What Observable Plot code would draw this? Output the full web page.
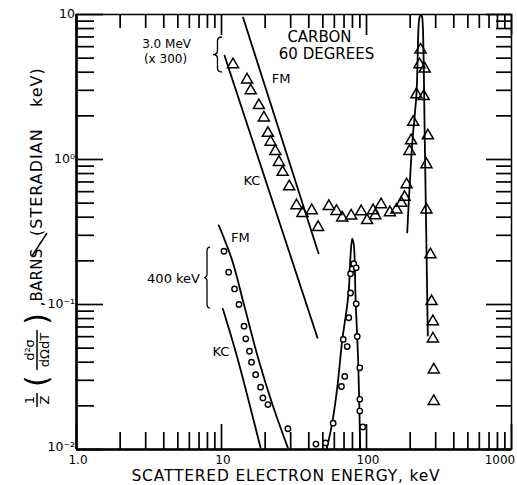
<!DOCTYPE html>
<html><head><meta charset="utf-8">
<script src="https://cdn.jsdelivr.net/npm/d3@7"></script>
<script src="https://cdn.jsdelivr.net/npm/@observablehq/plot@0.6"></script>
<style>body{margin:0;background:#fff} #chart svg{font-family:"DejaVu Sans",sans-serif}</style>
</head><body><div id="chart"></div>
<script>
// ---- data ----
// 3.0 MeV (x300) measured points, triangles
const tri3MeVEnergy = [12.0, 15.0, 15.9, 18.1, 19.6, 20.9, 21.8, 23.5, 24.9, 26.4, 29.3, 32.9, 36.2, 41.9, 46.4, 55.0, 62.1, 68.0, 78.4, 91.9, 101, 111, 115, 126, 145, 161, 174, 183, 189, 198, 203, 210, 221, 232, 236, 252, 248, 265, 259, 259, 276, 281, 287, 287, 291, 291];
const tri3MeVValue = [4.52, 3.55, 2.99, 2.36, 1.94, 1.52, 1.32, 1.14, 0.958, 0.818, 0.651, 0.482, 0.426, 0.445, 0.341, 0.476, 0.440, 0.396, 0.409, 0.438, 0.380, 0.445, 0.411, 0.489, 0.431, 0.450, 0.500, 0.550, 0.672, 1.14, 1.35, 1.81, 2.81, 4.52, 5.71, 4.22, 2.73, 1.46, 0.924, 0.450, 0.221, 0.105, 0.0764, 0.058, 0.0355, 0.0215];
// 400 keV measured points, circles
const circ400Energy = [10.4, 11.2, 12.3, 13.2, 14.3, 14.7, 15.6, 16.1, 17.2, 18.6, 19.3, 20.9, 28.7, 44.8, 52.2, 58.9, 67.2, 70.8, 69.1, 73.6, 75.5, 77.6, 77.6, 79.7, 81.7, 84.9, 84.9, 86.3, 89.9, 89.9, 89.9, 94.3];
const circ400Value = [0.233, 0.167, 0.128, 0.100, 0.0709, 0.058, 0.0476, 0.040, 0.0328, 0.0269, 0.0227, 0.0204, 0.0139, 0.0109, 0.0111, 0.0152, 0.0272, 0.0319, 0.0574, 0.0513, 0.081, 0.120, 0.163, 0.176, 0.191, 0.179, 0.101, 0.0602, 0.0366, 0.0222, 0.0184, 0.0143];
// theory curves
const fm3MeVEnergy = [14.1, 46.7];
const fm3MeVValue = [9.5, 0.225];
const kc3MeVEnergy = [10.5, 45.9];
const kc3MeVValue = [5.2, 0.059];
const peak3MeVEnergy = [190.9, 206.7, 221.2, 229.5, 233.1, 237.6, 241.4, 244.5, 252.5, 264.7];
const peak3MeVValue = [0.314, 1.289, 2.85, 8.81, 9.69, 9.92, 9.69, 8.40, 1.289, 0.0611];
const fm400Energy = [9.58, 11.85, 14.25, 18.08, 22.37, 28.66];
const fm400Value = [0.351, 0.201, 0.101, 0.0411, 0.0207, 0.0103];
const kc400Energy = [10.21, 12.83, 18.58];
const kc400Value = [0.0934, 0.0433, 0.0103];
const peak400Energy = [53.0, 58.0, 63.1, 68.0, 72.8, 75.5, 77.6, 79.7, 81.7, 84.0, 87.7, 90.5];
const peak400Value = [0.01, 0.0152, 0.0276, 0.0565, 0.091, 0.125, 0.218, 0.284, 0.259, 0.112, 0.0392, 0.01];
// ticks
const xMajorTicks = [1, 10, 100, 1000];
const xTickLabels = ["1.0", "10", "100", "1000"];
const yMajorTicks = [0.01, 0.1, 1, 10];
const yTickLabels = ["10\u207B\u00B2", "10\u207B\u00B9", "10\u2070", "10"];
const xMinorTicks = [2,3,4,5,6,7,8,9,20,30,40,50,60,70,80,90,200,300,400,500,600,700,800,900];
const yMinorTicks = [0.02,0.03,0.04,0.05,0.06,0.07,0.08,0.09,0.2,0.3,0.4,0.5,0.6,0.7,0.8,0.9,2,3,4,5,6,7,8,9];
// annotations (data coordinates)
const annText = ["CARBON", "60 DEGREES", "3.0 MeV", "(x 300)", "FM", "KC", "FM", "KC", "400 keV"];
const annEnergy = [47.4, 53.0, 4.18, 4.11, 25.8, 16.2, 13.5, 9.9, 4.67];
const annValue = [7.0, 5.35, 6.2, 4.95, 3.62, 0.716, 0.29, 0.0474, 0.151];
const annSize = [15, 15, 12, 12, 13, 13, 13, 13, 13];
const braceEnergyTip = [8.8, 7.63];
const braceEnergyRight = [10.16, 8.40];
const braceTop = [6.94, 0.247];
const braceBottom = [3.98, 0.0938];

const zip = (xs, ys) => xs.map((x, i) => ({x, y: ys[i]}));
const tri = zip(tri3MeVEnergy, tri3MeVValue);
const circ = zip(circ400Energy, circ400Value);
const curves = [
  [fm3MeVEnergy, fm3MeVValue, "linear"],
  [kc3MeVEnergy, kc3MeVValue, "linear"],
  [peak3MeVEnergy, peak3MeVValue, "catmull-rom"],
  [fm400Energy, fm400Value, "catmull-rom"],
  [kc400Energy, kc400Value, "catmull-rom"],
  [peak400Energy, peak400Value, "catmull-rom"]
];
const ann = annText.map((t, i) => ({t, x: annEnergy[i], y: annValue[i], s: annSize[i]}));

// inward tick marks: pixel lengths converted through the log scales (435 px = 3 decades)
const W = 435, PPD = W / 3;
const xD = [1, 1000], yD = [0.01, 10];
const upY = (px) => yD[0] * Math.pow(10, px / PPD);
const downY = (px) => yD[1] / Math.pow(10, px / PPD);
const rightX = (px) => xD[0] * Math.pow(10, px / PPD);
const leftX = (px) => xD[1] / Math.pow(10, px / PPD);
const TS = {stroke: "black", strokeWidth: 1.7};
const tickMarks = [
  Plot.ruleX(xMinorTicks, {x: d => d, y1: yD[0], y2: upY(17), ...TS}),
  Plot.ruleX(xMajorTicks, {x: d => d, y1: yD[0], y2: upY(25), ...TS}),
  Plot.ruleX(xMinorTicks, {x: d => d, y1: yD[1], y2: downY(14), ...TS}),
  Plot.ruleX(xMajorTicks, {x: d => d, y1: yD[1], y2: downY(21), ...TS}),
  Plot.ruleY(yMinorTicks, {y: d => d, x1: xD[0], x2: rightX(18), ...TS}),
  Plot.ruleY(yMajorTicks, {y: d => d, x1: xD[0], x2: rightX(27), ...TS}),
  Plot.ruleY(yMinorTicks, {y: d => d, x1: xD[1], x2: leftX(15), ...TS}),
  Plot.ruleY(yMajorTicks, {y: d => d, x1: xD[1], x2: leftX(25), ...TS})
];

const plot = Plot.plot({
  width: 517, height: 485,
  marginLeft: 76, marginRight: 6, marginTop: 14, marginBottom: 36,
  x: {type: "log", domain: xD, axis: null},
  y: {type: "log", domain: yD, axis: null},
  style: {fontFamily: "DejaVu Sans", background: "white", color: "black"},
  marks: [
    ...tickMarks,
    Plot.frame({stroke: "black", strokeWidth: 1.5}),
    Plot.ruleX([1], {strokeWidth: 2.6}),
    Plot.ruleY([0.01], {strokeWidth: 2.6}),
    // theory curves
    ...curves.map(([xs, ys, c]) => Plot.line(zip(xs, ys), {x: "x", y: "y", curve: c, stroke: "black", strokeWidth: 1.8})),
    // data points
    Plot.dot(tri, {x: "x", y: "y", symbol: "triangle", r: 4.1, stroke: "black", strokeWidth: 1.5, fill: "none"}),
    Plot.dot(circ, {x: "x", y: "y", symbol: "circle", r: 2.7, stroke: "black", strokeWidth: 1.4, fill: "white"}),
    // annotations
    Plot.text(ann, {x: "x", y: "y", text: "t", fontSize: d => d.s, fill: "black"})
  ]
});
document.getElementById("chart").appendChild(plot);

const svg = d3.select(plot);
const sx = plot.scale("x"), sy = plot.scale("y");
const X0 = sx.apply(1);

// tick labels
xMajorTicks.forEach((v, i) => {
  const x = Math.min(sx.apply(v) + 2, 500);
  svg.append("text").attr("x", x).attr("y", 464).attr("text-anchor", "middle")
    .attr("font-size", 12).attr("fill", "black").text(xTickLabels[i]);
});
yMajorTicks.forEach((v, i) => {
  svg.append("text").attr("x", X0 - 1).attr("y", sy.apply(v) + 4 - (i === 0 ? 2 : 0)).attr("text-anchor", "end")
    .attr("font-size", 12.5).attr("fill", "black").text(yTickLabels[i]);
});

// braces
for (let i = 0; i < braceTop.length; i++) {
  const xt = sx.apply(braceEnergyTip[i]), xr = sx.apply(braceEnergyRight[i]);
  const yt = sy.apply(braceTop[i]), yb = sy.apply(braceBottom[i]);
  const xm = (xt + xr) / 2, ym = (yt + yb) / 2, r = 4;
  const p = `M${xr},${yt} Q${xm},${yt} ${xm},${yt + r} L${xm},${ym - r} Q${xm},${ym} ${xt},${ym} Q${xm},${ym} ${xm},${ym + r} L${xm},${yb - r} Q${xm},${yb} ${xr},${yb}`;
  svg.append("path").attr("d", p).attr("fill", "none").attr("stroke", "black").attr("stroke-width", 1.3);
}

// x axis title
svg.append("text").attr("x", 286).attr("y", 481).attr("text-anchor", "middle")
  .attr("font-size", 15.5).attr("letter-spacing", 0.8).attr("fill", "black")
  .text("SCATTERED ELECTRON ENERGY, keV");

// y axis title (rotated)
const g = svg.append("g").attr("transform", "translate(37,0) rotate(-90)").attr("fill", "black");
function t(py, v, s, size, anchor, ls) {
  g.append("text").attr("x", -py).attr("y", v).attr("font-size", size)
    .attr("text-anchor", anchor).attr("letter-spacing", ls || 0).text(s);
}
function bar(py1, py2, v) {
  g.append("line").attr("x1", -py1).attr("x2", -py2).attr("y1", v).attr("y2", v)
    .attr("stroke", "black").attr("stroke-width", 1.5);
}
t(400, -3, "1", 13, "middle");
bar(407, 393, 0);
t(400, 12, "Z", 13, "middle");
t(387, 10, "(", 30, "start");
t(350, -3, "d\u00B2\u03C3", 13, "middle");
bar(370, 330, 0);
t(350, 12, "d\u03A9dT", 13, "middle");
t(313, 10, ")", 30, "end");
t(304, 6, ",", 16, "middle");
t(275, 5, "BARNS", 15, "middle", 0.3);
t(236, 5, "(STERADIAN", 16, "start", 1);
t(107, 5, "keV)", 16, "start", 1);
svg.append("line").attr("x1", 32).attr("y1", 256).attr("x2", 47).attr("y2", 233)
  .attr("stroke", "black").attr("stroke-width", 1.5);
</script>
</body></html>
